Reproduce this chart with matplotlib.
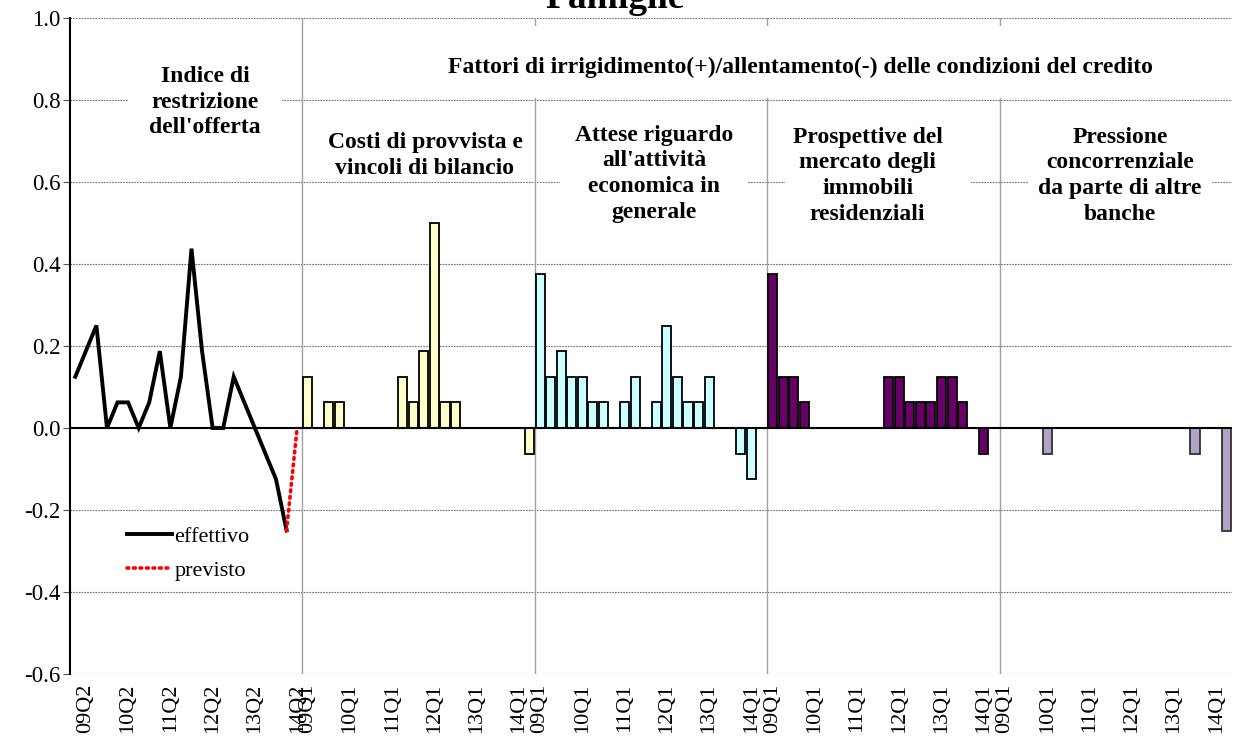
import numpy as np
import matplotlib
matplotlib.use('Agg')
import matplotlib.pyplot as plt
from matplotlib.patches import Rectangle

plt.rcParams['font.family'] = ['Liberation Serif', 'DejaVu Serif']
plt.rcParams['axes.unicode_minus'] = False

# indice di restrizione dell'offerta (09Q1..14Q1) + previsione 14Q2
effettivo = [0.125, 0.1875, 0.25, 0, 0.0625, 0.0625, 0, 0.0625, 0.1875, 0, 0.125,
             0.4375, 0.1875, 0, 0, 0.125, 0.0625, 0, -0.0625, -0.125, -0.25]
previsto = [-0.25, 0.0]

# fattori (09Q1..14Q2, 22 trimestri per gruppo)
costi = [0.125, 0, 0.0625, 0.0625, 0, 0, 0, 0, 0, 0.125, 0.0625, 0.1875, 0.5,
         0.0625, 0.0625, 0, 0, 0, 0, 0, 0, -0.0625]
attese = [0.375, 0.125, 0.1875, 0.125, 0.125, 0.0625, 0.0625, 0, 0.0625, 0.125, 0,
          0.0625, 0.25, 0.125, 0.0625, 0.0625, 0.125, 0, 0, -0.0625, -0.125, 0]
immobili = [0.375, 0.125, 0.125, 0.0625, 0, 0, 0, 0, 0, 0, 0, 0.125, 0.125, 0.0625,
            0.0625, 0.0625, 0.125, 0.125, 0.0625, 0, -0.0625, 0]
pressione = [0, 0, 0, 0, -0.0625, 0, 0, 0, 0, 0, 0, 0, 0, 0, 0, 0, 0, 0, -0.0625,
             0, 0, -0.25]

line_ticks = ['09Q2', '10Q2', '11Q2', '12Q2', '13Q2', '14Q2']
bar_ticks = ['09Q1', '10Q1', '11Q1', '12Q1', '13Q1', '14Q1']

groups = [costi, attese, immobili, pressione]
colors = ['#FFFFCC', '#CCFFFF', '#660066', '#B3A2C7']
titles = ["Costi di provvista e\nvincoli di bilancio",
          "Attese riguardo\nall'attività\neconomica in\ngenerale",
          "Prospettive del\nmercato degli\nimmobili\nresidenziali",
          "Pressione\nconcorrenziale\nda parte di altre\nbanche"]

W, H = 1237, 736
fig = plt.figure(figsize=(W / 100, H / 100), dpi=100)
ax = fig.add_axes([70 / W, 62 / H, 1162 / W, 656 / H])

n = len(effettivo) + 1  # slots per section
x_line = np.arange(len(effettivo))
l1, = ax.plot(x_line, effettivo, color='black', lw=2.8, zorder=4, solid_joinstyle='miter')
l2, = ax.plot([x_line[-1], x_line[-1] + 1], previsto, color='red', lw=2.6,
              linestyle=(0, (0.5, 1.3)), dash_capstyle='round', zorder=4)

ticks, labels = [], []
for t, lab in zip(range(1, n, 4), line_ticks):
    ticks.append(t)
    labels.append(lab)

for g, (vals, col) in enumerate(zip(groups, colors)):
    base = n * (g + 1)
    xs = base + np.arange(len(vals))
    ec = '#303030' if g == 3 else 'black'
    ax.bar(xs, vals, width=0.86, color=col, edgecolor=ec, linewidth=1.3, zorder=3)
    ax.axvline(base - 0.5, color='#a0a0a0', lw=1.0, zorder=1)
    for t, lab in zip(range(0, n, 4), bar_ticks):
        ticks.append(base + t)
        labels.append(lab)

ax.axhline(0, color='black', lw=1.5, zorder=3.5)

ax.set_xlim(-0.5, 5 * n - 0.5)
ax.set_ylim(-0.6, 1.0)
ax.set_yticks(np.arange(-0.6, 1.01, 0.2))
ax.yaxis.set_major_formatter(matplotlib.ticker.FormatStrFormatter('%.1f'))
ax.set_xticks(ticks)
ax.set_xticklabels(labels, rotation=90, fontsize=16)
ax.tick_params(axis='x', length=0, pad=7)
ax.tick_params(axis='y', labelsize=16.5, length=5, direction='out', color='#555555', pad=2)

ax.grid(axis='y', color='#707070', linestyle=(0, (1.5, 1)), linewidth=0.8)
ax.set_axisbelow(True)
for s in ['top', 'right', 'bottom']:
    ax.spines[s].set_visible(False)
ax.spines['left'].set_linewidth(1.5)

# white boxes behind the section labels
boxes = [(5.0, 0.70, 14.6, 0.21),
         (21.75, 0.805, 87.75, 0.175),
         (45.9, 0.495, 17.7, 0.265),
         (67.2, 0.495, 17.6, 0.265),
         (90.2, 0.495, 17.4, 0.265)]
for bx, by, bw, bh in boxes:
    ax.add_patch(Rectangle((bx, by), bw, bh, facecolor='white', edgecolor='none', zorder=1.5))

tkw = dict(ha='center', va='center', fontsize=17, fontweight='bold', linespacing=1.3, zorder=5)
ax.text(12.3, 0.795, "Indice di\nrestrizione\ndell'offerta", **tkw)
ax.text(68.6, 0.88, "Fattori di irrigidimento(+)/allentamento(-) delle condizioni del credito", **tkw)
ax.text(33.1, 0.665, titles[0], **tkw)
ax.text(54.8, 0.62, titles[1], **tkw)
ax.text(75.0, 0.615, titles[2], **tkw)
ax.text(98.9, 0.615, titles[3], **tkw)

ax.legend([l1, l2], ['effettivo', 'previsto'], loc='upper left', bbox_to_anchor=(0.032, 0.255),
          frameon=False, fontsize=16, handlelength=2.0, handletextpad=0.13, labelspacing=0.6)

fig.text(615 / W, 1 - 8 / H, 'Famiglie', ha='center', va='baseline', fontsize=27, fontweight='bold')

fig.savefig('out.png', dpi=100)
